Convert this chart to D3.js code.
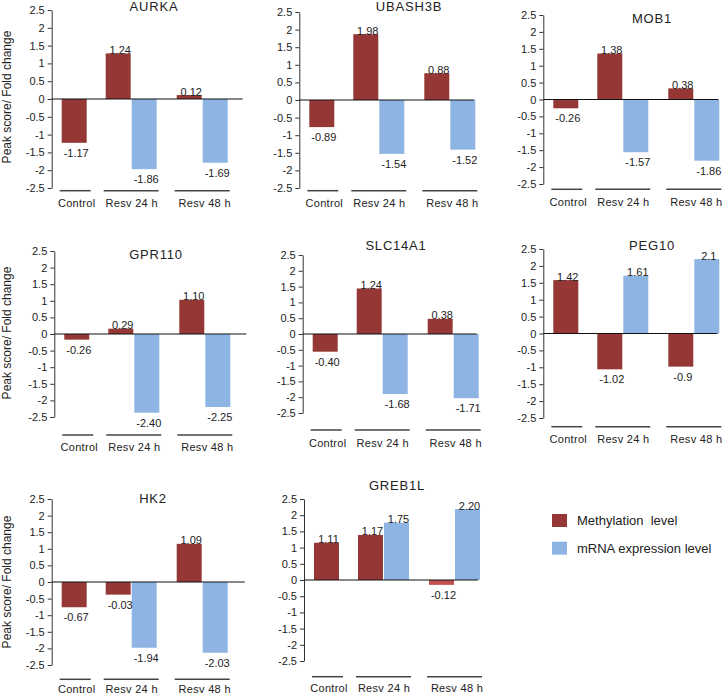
<!DOCTYPE html>
<html>
<head>
<meta charset="utf-8">
<script src="https://cdn.jsdelivr.net/npm/d3@7"></script>
<style>
  html, body { margin: 0; padding: 0; background: #fff; }
  svg { display: block; }
  text { font-family: "Liberation Sans", Arial, sans-serif; fill: #222; }
</style>
</head>
<body>
<svg id="chart" width="724" height="695"></svg>
<script>
// ---------------- data ----------------
const genes = ["AURKA", "UBASH3B", "MOB1", "GPR110", "SLC14A1", "PEG10", "HK2", "GREB1L"];
const categories = ["Control", "Resv 24 h", "Resv 48 h"];
const seriesNames = ["Methylation  level", "mRNA expression level"];
const yTicks = [2.5, 2, 1.5, 1, 0.5, 0, -0.5, -1, -1.5, -2, -2.5];
const yAxisTitle = "Peak score/ Fold change";

// bar heights as drawn (per gene: Control, Resv 24 h, Resv 48 h)
const methValues = [
  [-1.23, 1.28, 0.11],
  [-0.77, 1.87, 0.76],
  [-0.26, 1.36, 0.33],
  [-0.17, 0.16, 1.03],
  [-0.56, 1.44, 0.48],
  [1.58, -1.06, -0.98],
  [-0.76, -0.38, 1.15],
  [1.15, 1.39, -0.15]
];
const mrnaValues = [
  [null, -1.97, -1.79],
  [null, -1.53, -1.41],
  [null, -1.56, -1.81],
  [null, -2.37, -2.20],
  [null, -1.90, -2.03],
  [null, 1.71, 2.20],
  [null, -1.98, -2.13],
  [null, 1.77, 2.19]
];
// printed value labels
const methLabels = [
  ["-1.17", "1.24", "0.12"],
  ["-0.89", "1.98", "0.88"],
  ["-0.26", "1.38", "0.38"],
  ["-0.26", "0.29", "1.10"],
  ["-0.40", "1.24", "0.38"],
  ["1.42", "-1.02", "-0.9"],
  ["-0.67", "-0.03", "1.09"],
  ["1.11", "1.17", "-0.12"]
];
const mrnaLabels = [
  [null, "-1.86", "-1.69"],
  [null, "-1.54", "-1.52"],
  [null, "-1.57", "-1.86"],
  [null, "-2.40", "-2.25"],
  [null, "-1.68", "-1.71"],
  [null, "1.61", "2.1"],
  [null, "-1.94", "-2.03"],
  [null, "1.75", "2.20"]
];

// ---------------- layout (positions of each small panel) ----------------
const panels = [
  { ax: 51.7,  top: 10,  bottom: 188, titleX: 154, titleY: 11,    lineY: 190.7, labY: 206.5, zeroLen: 191, yTitle: 97 },
  { ax: 299.3, top: 12,  bottom: 188, titleX: 409, titleY: 11,    lineY: 190.7, labY: 206.5, zeroLen: 175 },
  { ax: 543.3, top: 15,  bottom: 184, titleX: 652, titleY: 23,    lineY: 189.3, labY: 205.5, zeroLen: 175 },
  { ax: 54.3,  top: 251, bottom: 417, titleX: 156, titleY: 258.5, lineY: 435,   labY: 450.5, zeroLen: 192, yTitle: 333 },
  { ax: 302.7, top: 255, bottom: 413, titleX: 396, titleY: 249.5, lineY: 430,   labY: 446.5, zeroLen: 174 },
  { ax: 543.3, top: 249, bottom: 418, titleX: 652, titleY: 250,   lineY: 426.7, labY: 443,   zeroLen: 174 },
  { ax: 51.7,  top: 499, bottom: 665, titleX: 153, titleY: 503,   lineY: 679.3, labY: 692.5, zeroLen: 193, yTitle: 582 },
  { ax: 304,   top: 499, bottom: 661, titleX: 397, titleY: 489.5, lineY: 676.7, labY: 692,   zeroLen: 174 }
];

const colors = { meth: "#953735", mrna: "#8db4e2" };

// group start offset, underline extents, label centre (relative to y-axis)
const groupStart = d3.scaleOrdinal().domain(categories).range([10, 54, 125]);
const underline = d3.scaleOrdinal().domain(categories).range([[8, 39], [52, 107], [123, 178]]);
const labelCenter = d3.scaleOrdinal().domain(categories).range([25, 80, 153]);
const inGroup = d3.scaleBand().domain(["meth", "mrna"]).range([0, 51]).paddingInner(0.04);

const svg = d3.select("#chart");

genes.forEach((gene, gi) => {
  const p = panels[gi];
  const y = d3.scaleLinear().domain([-2.5, 2.5]).range([p.bottom, p.top]);
  const g = svg.append("g");

  // y axis
  const axis = d3.axisLeft(y).tickValues(yTicks).tickSize(4).tickSizeOuter(0).tickPadding(3)
    .tickFormat(d => String(d));
  const ag = g.append("g").attr("transform", `translate(${p.ax},0)`).call(axis);
  ag.select(".domain").attr("stroke", "#333");
  ag.selectAll(".tick line").attr("stroke", "#333");
  ag.selectAll(".tick text").style("font-family", "'Liberation Sans', Arial, sans-serif")
    .style("font-size", "11px").attr("fill", "#222");

  // bars
  const rows = [];
  categories.forEach((c, ci) => {
    if (methValues[gi][ci] != null) rows.push({ c, s: "meth", v: methValues[gi][ci], lab: methLabels[gi][ci] });
    if (mrnaValues[gi][ci] != null) rows.push({ c, s: "mrna", v: mrnaValues[gi][ci], lab: mrnaLabels[gi][ci] });
  });
  const bx = d => p.ax + groupStart(d.c) + inGroup(d.s);
  g.selectAll("rect.bar").data(rows).enter().append("rect")
    .attr("class", "bar")
    .attr("x", bx)
    .attr("width", inGroup.bandwidth())
    .attr("y", d => Math.min(y(d.v), y(0)))
    .attr("height", d => Math.abs(y(d.v) - y(0)))
    .attr("fill", d => (gene === "GREB1L" && d.s === "meth" && d.v < 0) ? "#c0504d" : colors[d.s]);

  // zero line
  g.append("line")
    .attr("x1", p.ax).attr("x2", p.ax + p.zeroLen)
    .attr("y1", y(0)).attr("y2", y(0))
    .attr("stroke", "#111").attr("stroke-width", 1.2);

  // value labels
  g.selectAll("text.val").data(rows).enter().append("text")
    .attr("class", "val")
    .attr("x", d => bx(d) + inGroup.bandwidth() / 2 + 2)
    .attr("y", d => d.v >= 0 ? y(d.v) + 0.5 : y(d.v) + 14)
    .attr("text-anchor", "middle")
    .style("font-size", "11px")
    .text(d => d.lab);

  // category underlines and labels
  categories.forEach(c => {
    const u = underline(c);
    g.append("line").attr("x1", p.ax + u[0]).attr("x2", p.ax + u[1])
      .attr("y1", p.lineY).attr("y2", p.lineY)
      .attr("stroke", "#444").attr("stroke-width", 1.5);
    g.append("text").attr("x", p.ax + labelCenter(c)).attr("y", p.labY)
      .attr("text-anchor", "middle").style("font-size", "11px")
      .style("letter-spacing", "0.3px")
      .text(c);
  });

  // title
  g.append("text").attr("x", p.titleX).attr("y", p.titleY)
    .attr("text-anchor", "middle").style("font-size", "13px")
    .style("letter-spacing", "0.8px")
    .text(gene);

  // y-axis title
  if (p.yTitle != null) {
    g.append("text")
      .attr("transform", `translate(10.5,${p.yTitle}) rotate(-90)`)
      .attr("text-anchor", "middle").style("font-size", "12px")
      .text(yAxisTitle);
  }
});

// legend
const legend = svg.append("g");
const legendKeys = ["meth", "mrna"];
legendKeys.forEach((k, i) => {
  const ly = 514 + i * 27.7;
  legend.append("rect").attr("x", 552).attr("y", ly).attr("width", 15).attr("height", 13)
    .attr("fill", colors[k]);
  legend.append("text").attr("x", 577).attr("y", ly + 11)
    .style("font-size", "13px").style("white-space", "pre")
    .text(seriesNames[i]);
});
</script>
</body>
</html>
